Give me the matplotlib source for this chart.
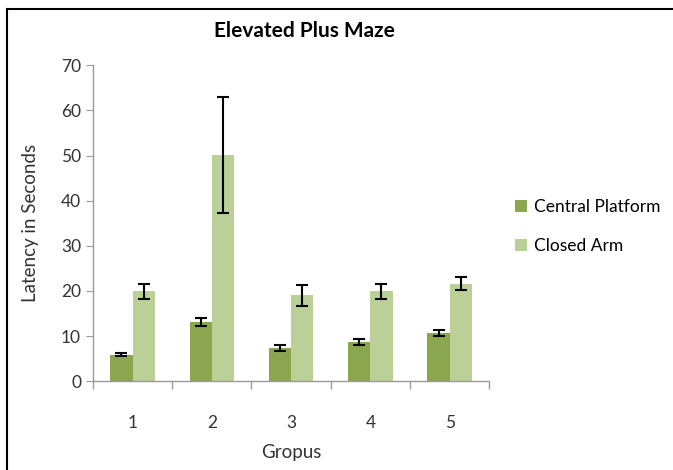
import matplotlib
matplotlib.use("Agg")
import matplotlib.pyplot as plt
from matplotlib.patches import Rectangle
import numpy as np

groups = ["1", "2", "3", "4", "5"]
central = [5.9, 13.2, 7.3, 8.7, 10.6]
central_err = [0.3, 0.9, 0.65, 0.6, 0.65]
closed = [19.9, 50.1, 19.0, 19.9, 21.6]
closed_err = [1.6, 12.8, 2.3, 1.7, 1.5]

plt.rcParams['font.family'] = ['Lato', 'DejaVu Sans']

fig = plt.figure(figsize=(6.73, 4.70), dpi=100)
ax = fig.add_axes([0.138, 0.189, 0.589, 0.672])

x = np.arange(1, len(groups) + 1)
w = 0.28
ax.bar(x - w/2, central, w, color='#8AA64E', label='Central Platform',
       yerr=central_err, capsize=4, error_kw=dict(ecolor='black', elinewidth=1.5, capthick=1.5))
ax.bar(x + w/2, closed, w, color='#BBD097', label='Closed Arm',
       yerr=closed_err, capsize=4, error_kw=dict(ecolor='black', elinewidth=1.5, capthick=1.5))

ax.set_xlim(0.5, 5.5)
ax.set_ylim(0, 70)
ax.set_yticks(range(0, 71, 10))
ax.set_xticks(x)
ax.set_xticklabels(groups)
ax.set_xticks(np.arange(0.5, 5.6, 1), minor=True)
ax.tick_params(axis='x', which='major', length=0, pad=24, labelsize=12.5, colors='#333333')
ax.tick_params(axis='x', which='minor', length=6, color='#999999', width=1)
ax.tick_params(axis='y', length=5, color='#999999', labelsize=12.5, colors='#333333')
for s in ['top', 'right']:
    ax.spines[s].set_visible(False)
for s in ['left', 'bottom']:
    ax.spines[s].set_color('#999999')
    ax.spines[s].set_linewidth(1)

ax.set_ylabel('Latency in Seconds', fontsize=13.5, color='#333333', labelpad=16)
ax.set_xlabel('Gropus', fontsize=13.5, color='#333333', labelpad=10)
fig.text(0.452, 0.935, 'Elevated Plus Maze', fontsize=15, fontweight='bold', ha='center', va='center')

ax.legend(loc='center left', bbox_to_anchor=(1.025, 0.49), frameon=False, fontsize=12.5,
          handlelength=0.7, handleheight=0.7, handletextpad=0.4, labelspacing=1.35)

fig.patches.append(Rectangle((0.011, -0.01), 1.5, 0.99, transform=fig.transFigure,
                             fill=False, edgecolor='black', linewidth=1.5))

fig.savefig('out.png', dpi=100)
